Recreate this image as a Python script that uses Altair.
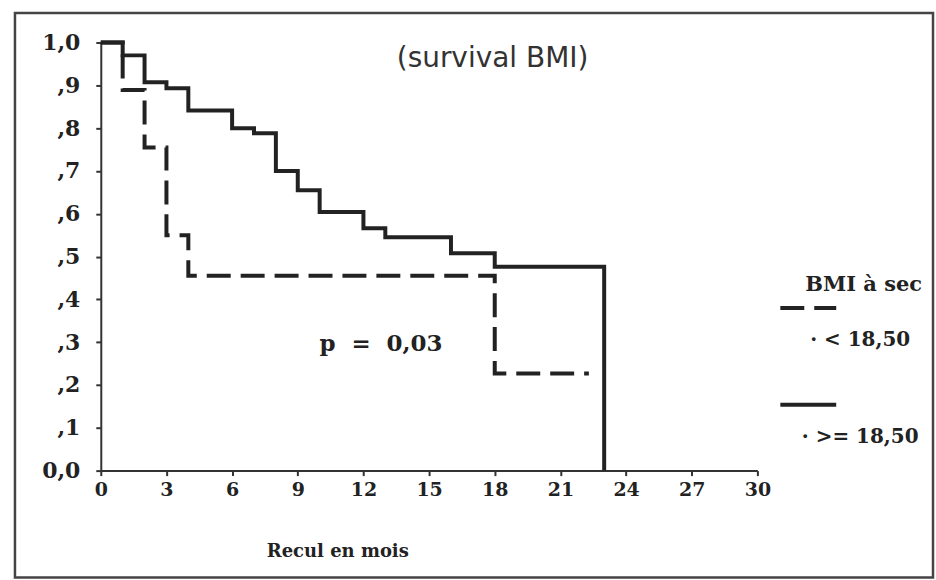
import altair as alt
import pandas as pd

# Kaplan-Meier survival by dry BMI group (months of follow-up)
groups = ["< 18,50", ">= 18,50"]

months_low = [0, 1, 2, 3, 4, 18, 22.3]
surv_low = [1.0, 0.889, 0.755, 0.55, 0.455, 0.227, 0.227]

months_high = [0, 1, 2, 3, 4, 6, 7, 8, 9, 10, 12, 13, 16, 18, 23]
surv_high = [1.0, 0.97, 0.907, 0.893, 0.841, 0.80, 0.788, 0.70, 0.655,
             0.604, 0.566, 0.545, 0.508, 0.476, 0.0]

x_ticks = [0, 3, 6, 9, 12, 15, 18, 21, 24, 27, 30]
y_ticks = [0.0, 0.1, 0.2, 0.3, 0.4, 0.5, 0.6, 0.7, 0.8, 0.9, 1.0]

# in-plot annotations, placed in data units
notes_text = ["(survival BMI)", "p\u00a0\u00a0=\u00a0\u00a00,03"]
notes_month = [17.9, 12.8]
notes_surv = [0.944, 0.295]

rows = []
for i, (m, s) in enumerate(zip(months_low, surv_low)):
    rows.append({"mois": m, "survie": s, "BMI": groups[0], "ordre": i})
for i, (m, s) in enumerate(zip(months_high, surv_high)):
    rows.append({"mois": m, "survie": s, "BMI": groups[1], "ordre": i})
curves = pd.DataFrame(rows)

INK = "#222222"
SERIF = "DejaVu Serif"

x_scale = alt.Scale(domain=[0, 30], nice=False, zero=False)
y_scale = alt.Scale(domain=[0, 1], nice=False)

x_axis = alt.Axis(
    values=x_ticks, title="Recul en mois", grid=False,
    domainColor="#333", domainWidth=2, tickColor="#333", tickWidth=2, tickSize=5,
    labelFont=SERIF, labelFontWeight="bold", labelFontSize=19, labelColor=INK,
    labelPadding=5, labelFlush=False,
    titleFont=SERIF, titleFontWeight="bold", titleFontSize=18, titleColor=INK,
    titleX=237, titleY=86, titleBaseline="alphabetic", titleAlign="center",
)
y_axis = alt.Axis(
    values=y_ticks, title=None, grid=False,
    labelExpr="datum.value == 0 ? '0,0' : (datum.value == 1 ? '1,0' : ',' + round(datum.value * 10))",
    domainColor="#333", domainWidth=2, tickColor="#333", tickWidth=2, tickSize=5,
    labelFont=SERIF, labelFontWeight="bold", labelFontSize=22, labelColor=INK,
    labelPadding=16, labelFlush=False,
)

legend = alt.Legend(
    orient="none", legendX=679, legendY=232,
    title="BMI à sec", titleFont=SERIF, titleFontWeight="bold", titleFontSize=21,
    titleColor=INK, titlePadding={"expr": "-17"}, titleAnchor="end",
    symbolType="stroke", symbolSize=3136, symbolStrokeWidth=4,
    symbolStrokeColor=INK,
    labelFont=SERIF, labelFontWeight="bold", labelFontSize=20, labelColor=INK,
    labelOffset=22, labelAlign="center", labelBaseline="top",
    labelExpr="['', '·  ' + datum.label]",
    rowPadding=25, labelLimit=0,
)

lines = alt.Chart(curves).mark_line(
    interpolate="step-after", strokeWidth=4, color=INK, strokeCap="butt"
).encode(
    x=alt.X("mois:Q", scale=x_scale, axis=x_axis),
    y=alt.Y("survie:Q", scale=y_scale, axis=y_axis),
    strokeDash=alt.StrokeDash(
        "BMI:N",
        scale=alt.Scale(domain=groups, range=[[24, 10], [1, 0]]),
        legend=legend,
    ),
    order="ordre:Q",
)

notes = pd.DataFrame({"mois": notes_month, "survie": notes_surv, "t": notes_text})

title_mark = alt.Chart(notes.iloc[[0]]).mark_text(
    font="DejaVu Sans", fontSize=28, color="#333", align="center", baseline="alphabetic"
).encode(
    x=alt.X("mois:Q", scale=x_scale),
    y=alt.Y("survie:Q", scale=y_scale),
    text="t:N",
)

pval = alt.Chart(notes.iloc[[1]]).mark_text(
    font=SERIF, fontWeight="bold", fontSize=23, color=INK, align="center", baseline="middle"
).encode(
    x=alt.X("mois:Q", scale=x_scale),
    y=alt.Y("survie:Q", scale=y_scale),
    text="t:N",
)

# outer frame around the whole figure
frame = alt.Chart(pd.DataFrame({"k": [0]})).mark_rect(
    filled=False, stroke="#444", strokeWidth=2.5
).encode(
    x=alt.value(-86), x2=alt.value(834), y=alt.value(-29.5), y2=alt.value(536)
)

chart = alt.layer(frame, lines, title_mark, pval).properties(
    width=658, height=429,
    padding={"left": 13, "top": 11, "right": 1, "bottom": 1},
    autosize=alt.AutoSizeParams(type="pad"),
    background="white",
).configure_view(strokeWidth=0)

chart.save("out.html", embed_options={"renderer": "svg", "actions": False})
